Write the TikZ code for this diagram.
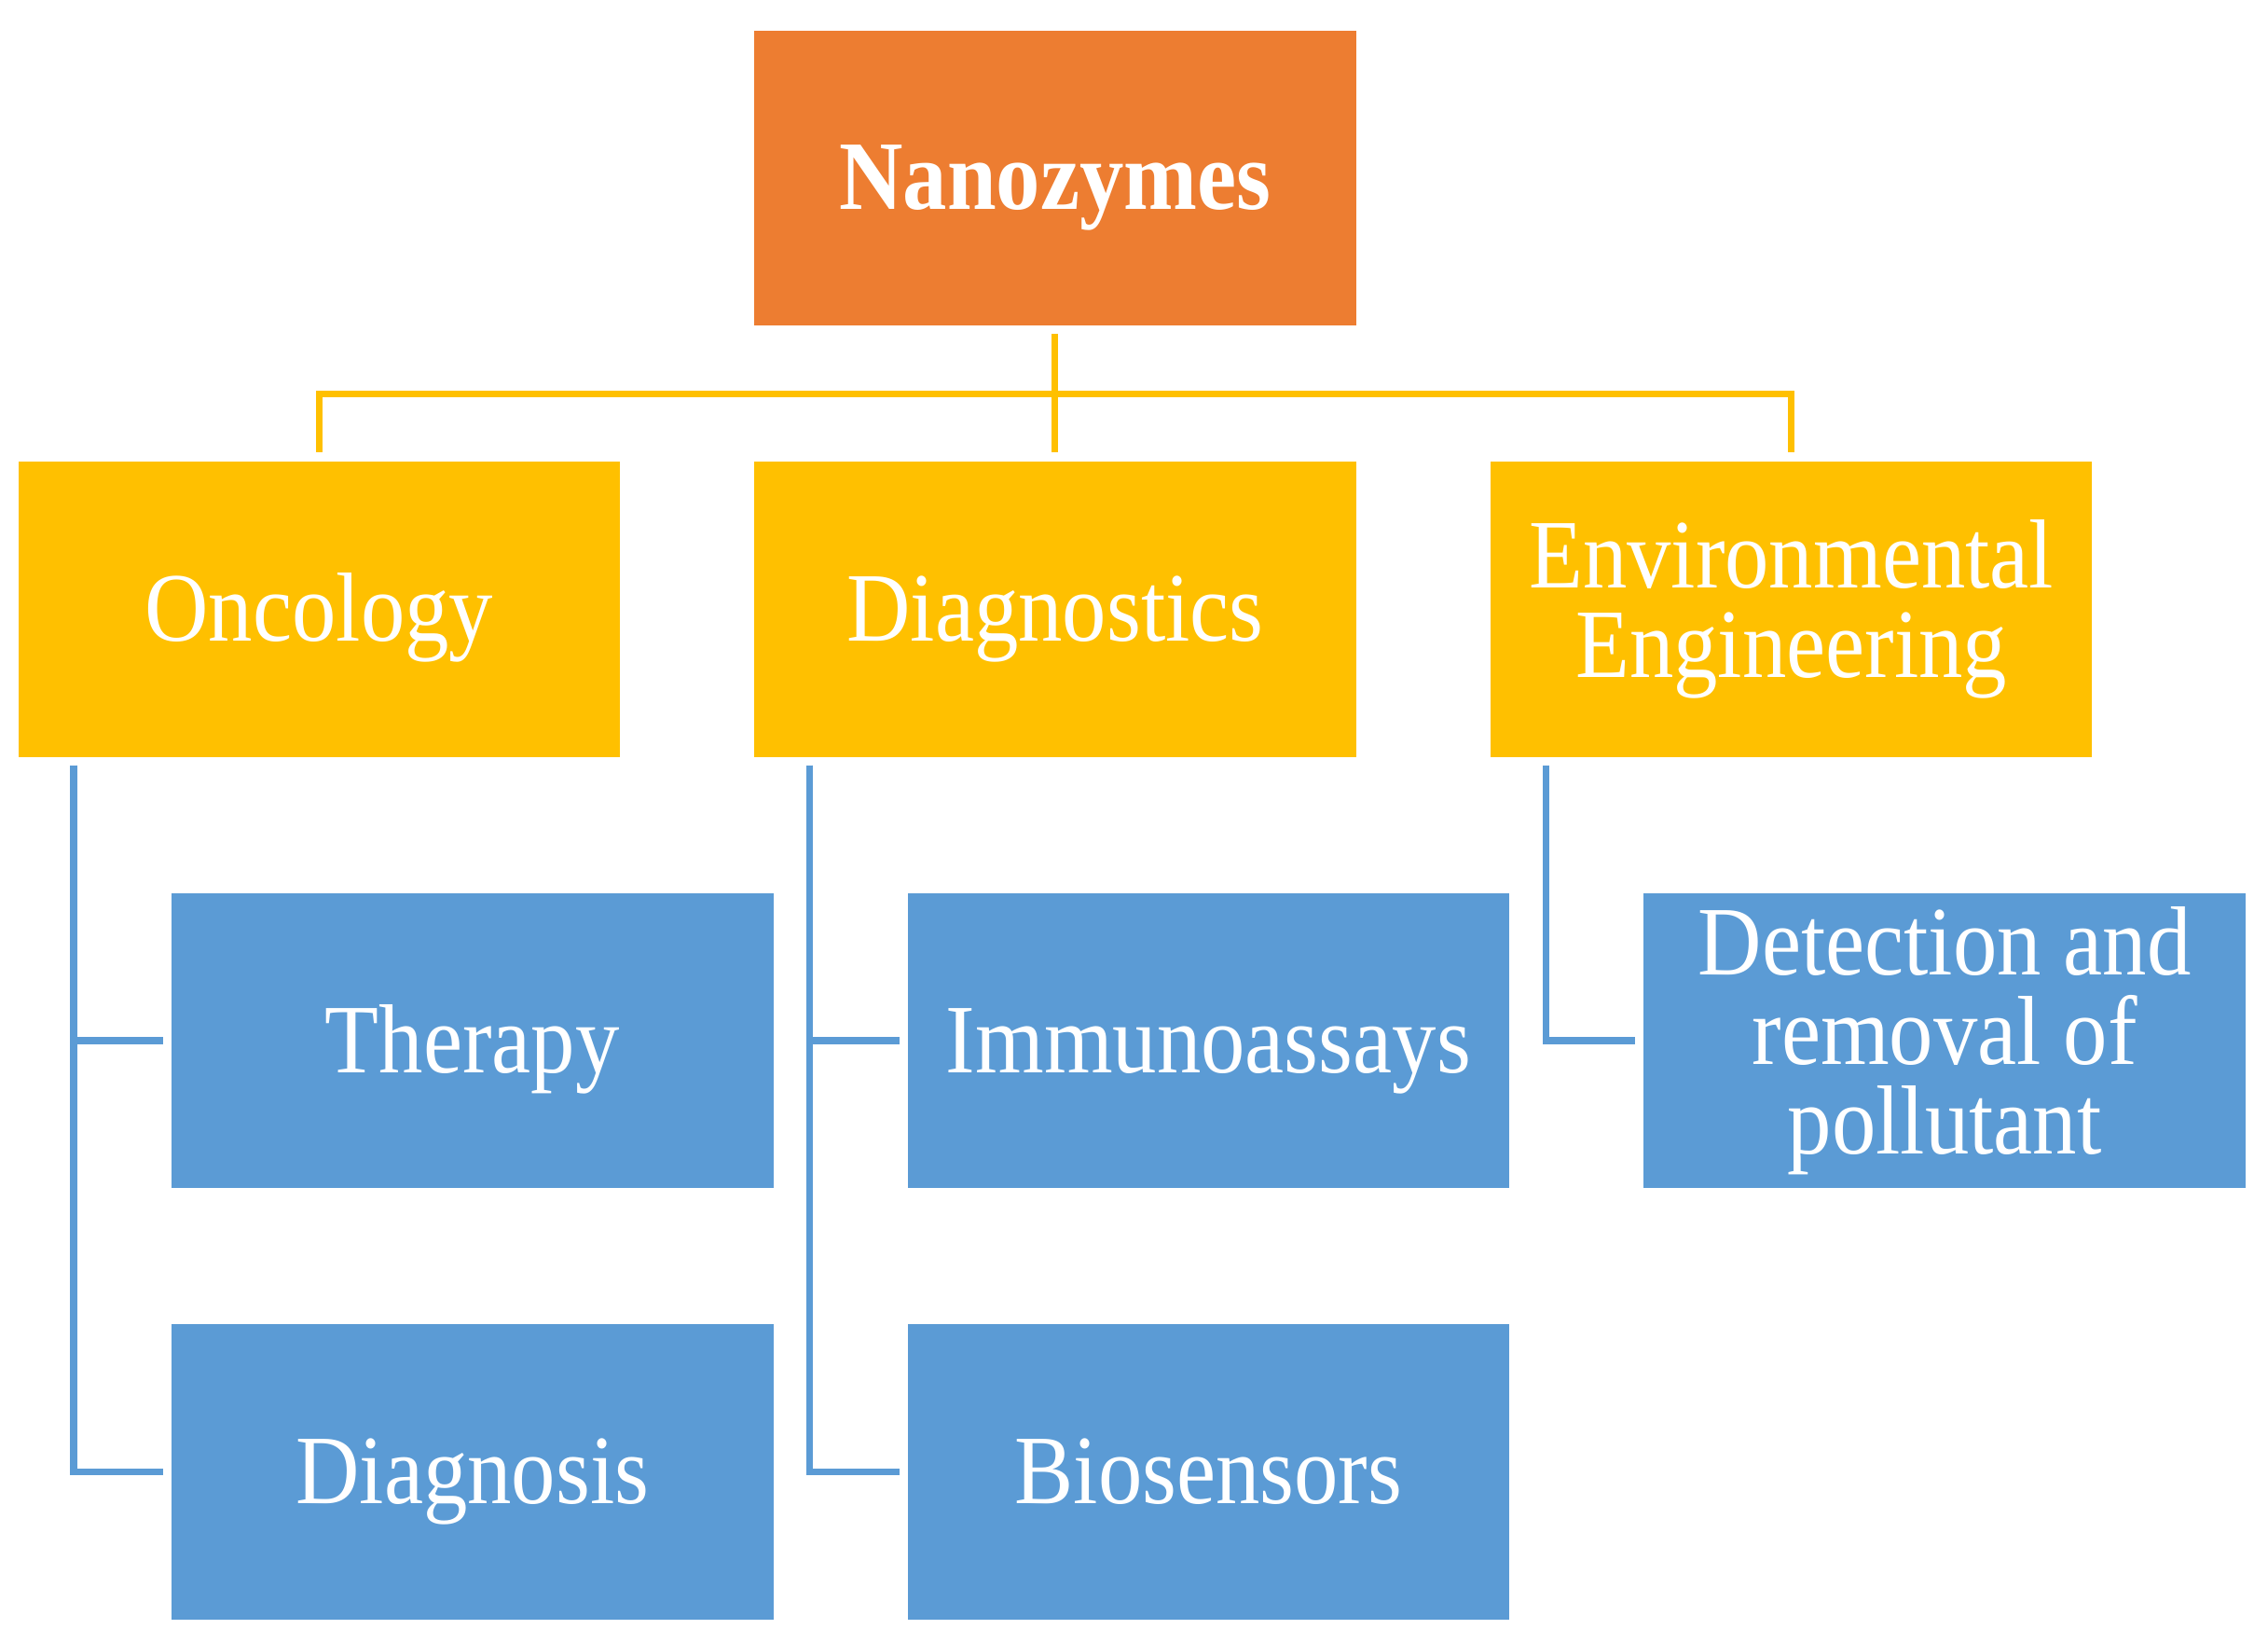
\documentclass[tikz,border=0pt]{standalone}
\usepackage{fontspec}
\setmainfont{Liberation Serif}[FakeStretch=0.9]
\usetikzlibrary{positioning,calc}
\definecolor{nanoOrange}{HTML}{ED7D31}
\definecolor{fieldGold}{HTML}{FFC000}
\definecolor{useBlue}{HTML}{5B9BD5}

\begin{document}
\begin{tikzpicture}[node distance=0.927cm,
    box/.style={text=white,align=center,inner sep=2pt,minimum width=4.16cm,minimum height=2.04cm,
      font=\fontsize{19.3}{17.6}\selectfont},
    oneline/.style={text height=15pt,text depth=2.5pt},
    rootbox/.style={box,oneline,fill=nanoOrange,font=\fontsize{19.3}{17.6}\selectfont\bfseries},
    fieldbox/.style={box,fill=fieldGold},
    usebox/.style={box,fill=useBlue},
    goldline/.style={draw=fieldGold,line width=1.3pt},
    blueline/.style={draw=useBlue,line width=1.3pt}]
  \useasboundingbox (0,0) rectangle (15.68,-11.35);
  \node[rootbox] (nano) at (7.295,-1.23) {Nanozymes};
  \node[fieldbox,oneline,below=of nano] (diag) {Diagnostics};
  \node[fieldbox,oneline,left=0.915cm of diag] (onc) {Oncology};
  \node[fieldbox,right=0.915cm of diag] (env) {Environmental\\Engineering};
  \node[usebox,oneline,below=of onc,xshift=1.06cm] (therapy) {Therapy};
  \node[usebox,oneline,below=of therapy] (diagnosis) {Diagnosis};
  \node[usebox,oneline,below=of diag,xshift=1.06cm] (immuno) {Immunoassays};
  \node[usebox,oneline,below=of immuno] (biosens) {Biosensors};
  \node[usebox,below=of env,xshift=1.06cm] (pollut) {Detection and\\removal of\\pollutant};
  % tree lines
  \coordinate (bus) at ($(nano.south)!0.5!(diag.north)$);
  \draw[goldline,shorten <=0.05cm,shorten >=0.06cm] (nano.south) -- (diag.north);
  \draw[goldline,shorten <=0.06cm,shorten >=0.06cm] (onc.north) |- (bus) -| (env.north);
  \draw[blueline,shorten <=0.05cm,shorten >=0.05cm] ([xshift=0.39cm]onc.south west) |- (therapy.west);
  \draw[blueline,shorten <=0.05cm,shorten >=0.05cm] ([xshift=0.39cm]onc.south west) |- (diagnosis.west);
  \draw[blueline,shorten <=0.05cm,shorten >=0.05cm] ([xshift=0.39cm]diag.south west) |- (immuno.west);
  \draw[blueline,shorten <=0.05cm,shorten >=0.05cm] ([xshift=0.39cm]diag.south west) |- (biosens.west);
  \draw[blueline,shorten <=0.05cm,shorten >=0.05cm] ([xshift=0.39cm]env.south west) |- (pollut.west);
\end{tikzpicture}
\end{document}
